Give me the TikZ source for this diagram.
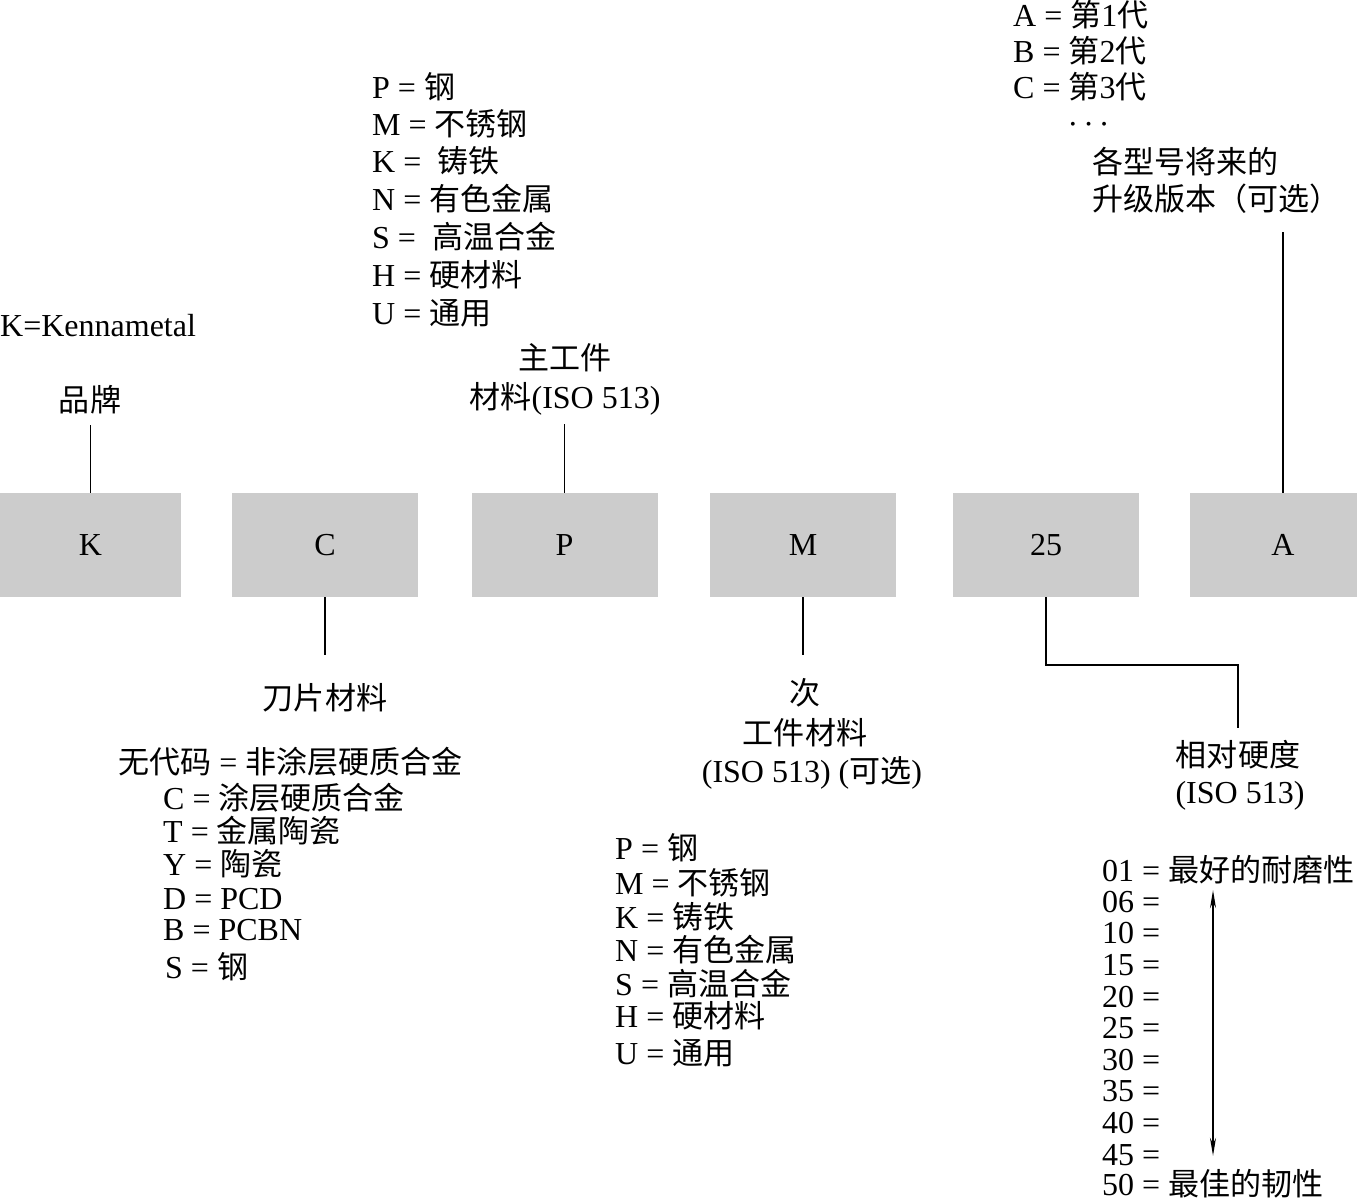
\documentclass[tikz,border=0pt]{standalone}
\usepackage{fontspec}
\setmainfont{Liberation Serif}
\newfontfamily\cjk[Scale=0.97]{Noto Sans CJK SC}
\newcommand\zh[1]{{\cjk #1}}
\usetikzlibrary{arrows.meta}
\definecolor{boxgray}{RGB}{204,204,204}
\tikzset{
  codebox/.style={fill=boxgray, minimum width=186pt, minimum height=104pt, inner sep=0pt,
    font=\fontsize{32}{37}\selectfont},
  lbl/.style={inner sep=0pt, text height=24pt, text depth=2pt, font=\fontsize{32}{37}\selectfont},
  lw/.style={lbl, anchor=west},
  conn/.style={draw=black, line width=1.8pt},
  dblarrow/.style={draw=black, line width=1.2pt, {Stealth[length=18pt,width=6pt]}-{Stealth[length=18pt,width=6pt]}}
}
\begin{document}
\begin{tikzpicture}[x=1pt,y=-1pt]
\useasboundingbox[fill=white] (0,0) rectangle (1357,1201);

% code boxes
\node[codebox, minimum width=181pt] (bK) at (90.5,545) {K};
\node[codebox] (bC) at (325,545) {C};
\node[codebox] (bP) at (564.5,545) {P};
\node[codebox] (bM) at (803,545) {M};
\node[codebox] (b25) at (1046,545) {25};
\node[codebox] (bA) at (1283,545) {A};

% K: brand
\node[lw] (kenn) at (0,325) {K=Kennametal};
\node[lbl, outer ysep=12pt] (brand) at (90,400) {\zh{品牌}};
\draw[conn] (bK.north) -- (bK.north |- brand.south);

% P: main workpiece material
\node[lw] (p1) at (372,88) {P = \zh{钢}};
\node[lw] (p2) at (372,125) {M = \zh{不锈钢}};
\node[lw] (p3) at (372,162) {K = \ \zh{铸铁}};
\node[lw] (p4) at (372,200) {N = \zh{有色金属}};
\node[lw] (p5) at (372,237) {S = \ \zh{高温合金}};
\node[lw] (p6) at (372,275) {H = \zh{硬材料}};
\node[lw] (p7) at (372,313) {U = \zh{通用}};
\node[lbl] (pmain1) at (565,358) {\zh{主工件}};
\node[lbl, outer ysep=14pt] (pmain2) at (565,397) {\zh{材料}(ISO 513)};
\draw[conn] (bP.north) -- (bP.north |- pmain2.south);

% C: insert material
\node[lbl, outer ysep=30pt] (cmat) at (325,698) {\zh{刀片材料}};
\draw[conn] (bC.south) -- (bC.south |- cmat.north);
\node[lw] (c0) at (118,762) {\zh{无代码} = \zh{非涂层硬质合金}};
\node[lw] (c1) at (163,798) {C = \zh{涂层硬质合金}};
\node[lw] (c2) at (163,831) {T = \zh{金属陶瓷}};
\node[lw] (c3) at (163,864) {Y = \zh{陶瓷}};
\node[lw] (c4) at (163,898) {D = PCD};
\node[lw] (c5) at (163,929) {B = PCBN};
\node[lw] (c6) at (165,967) {S = \zh{钢}};

% M: secondary workpiece material
\node[lbl, outer ysep=25pt] (msec1) at (805,693) {\zh{次}};
\node[lbl] (msec2) at (805,733) {\zh{工件材料}};
\node[lbl] (msec3) at (812,771) {(ISO 513) (\zh{可选})};
\draw[conn] (bM.south) -- (bM.south |- msec1.north);
\node[lw] (m1) at (615,848) {P = \zh{钢}};
\node[lw] (m2) at (615,883) {M = \zh{不锈钢}};
\node[lw] (m3) at (615,917) {K = \zh{铸铁}};
\node[lw] (m4) at (615,950) {N = \zh{有色金属}};
\node[lw] (m5) at (615,984) {S = \zh{高温合金}};
\node[lw] (m6) at (615,1016) {H = \zh{硬材料}};
\node[lw] (m7) at (615,1053) {U = \zh{通用}};

% 25: relative hardness
\node[lbl, outer ysep=14pt] (hard1) at (1238,755) {\zh{相对硬度}};
\node[lbl] (hard2) at (1240,792) {(ISO 513)};
\draw[conn] (b25.south) -- ++(0,68) -| (hard1.north);
\node[lw] (h01) at (1102,870) {01 = \zh{最好的耐磨性}};
\node[lw] (h06) at (1102,901) {06 =};
\node[lw] (h10) at (1102,932) {10 =};
\node[lw] (h15) at (1102,964) {15 =};
\node[lw] (h20) at (1102,996) {20 =};
\node[lw] (h25) at (1102,1027) {25 =};
\node[lw] (h30) at (1102,1059) {30 =};
\node[lw] (h35) at (1102,1090) {35 =};
\node[lw] (h40) at (1102,1122) {40 =};
\node[lw] (h45) at (1102,1154) {45 =};
\node[lw] (h50) at (1102,1184) {50 = \zh{最佳的韧性}};
\coordinate (arrx) at (1213,0);
\draw[dblarrow, shorten <=7pt, shorten >=15pt] (h01.south -| arrx) -- (h50.north -| arrx);

% A: future versions
\node[lw] (a1) at (1013,16) {A = \zh{第}1\zh{代}};
\node[lw] (a2) at (1013,52) {B = \zh{第}2\zh{代}};
\node[lw] (a3) at (1013,88) {C = \zh{第}3\zh{代}};
\node[lw, font=\fontsize{16}{16}\selectfont, text height=12pt] (adots) at (1070,125) {•\hspace{10pt}•\hspace{10pt}•};
\node[lw] (up1) at (1092,163) {\zh{各型号将来的}};
\node[lw, outer ysep=19pt] (up2) at (1092,200) {\zh{升级版本（可选）}};
\draw[conn] (bA.north) -- (bA.north |- up2.south);
\end{tikzpicture}
\end{document}
